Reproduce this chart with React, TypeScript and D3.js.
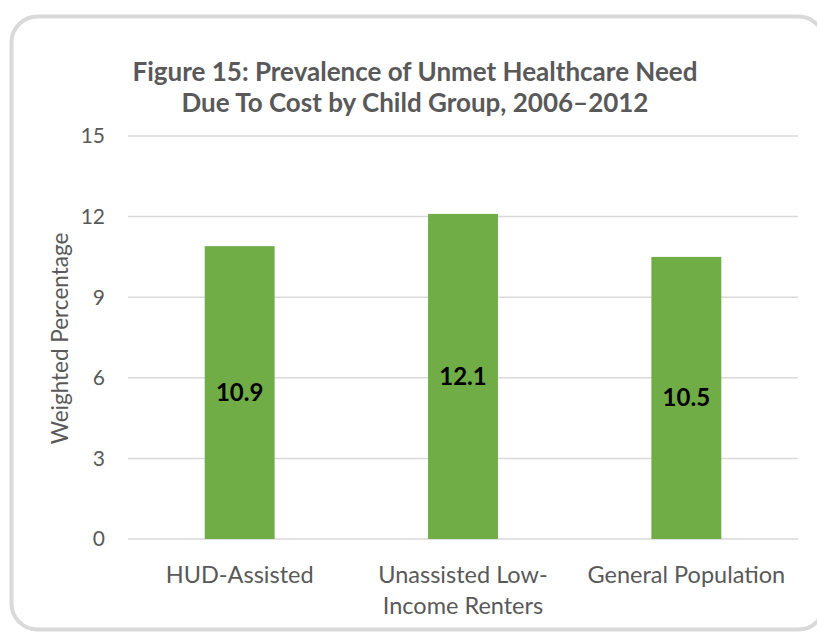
import React from "react";
import * as d3 from "d3";

const categories: string[][] = [["HUD-Assisted"], ["Unassisted Low-", "Income Renters"], ["General Population"]];
const values: number[] = [10.9, 12.1, 10.5];
const yTicks: number[] = [0, 3, 6, 9, 12, 15];
const titleLines: string[] = ["Figure 15: Prevalence of Unmet Healthcare Need", "Due To Cost by Child Group, 2006\u20132012"];
const yAxisTitle = "Weighted Percentage";

const W = 817, H = 633;
const left = 128, right = 798, top = 136, bottom = 539;
const FONT = "Lato, 'Open Sans', sans-serif";

export default function App() {
  const x = d3.scaleBand<number>().domain(d3.range(values.length)).range([left, right]).paddingInner(0.687).paddingOuter(0.3435);
  const y = d3.scaleLinear().domain([0, 15]).range([bottom, top]);
  return (
    <svg width={W} height={H} style={{ position: "absolute", left: 0, top: 0 }}>
      <rect x={0} y={0} width={W} height={H} fill="#fff" />
      <rect x={11.5} y={16.5} width={813} height={613} rx={26} ry={26} fill="#fff" stroke="#d9d9d9" strokeWidth={4} />
      {titleLines.map((t, i) => (
        <text key={i} x={415} y={81 + i * 31} textAnchor="middle" fontFamily={FONT} fontWeight="bold" fontSize={26} fill="#595959">{t}</text>
      ))}
      {yTicks.map((t) => (
        <g key={t}>
          <line x1={left} x2={right} y1={y(t)} y2={y(t)} stroke="#d9d9d9" strokeWidth={1.5} />
          <text x={105} y={y(t)} dy="0.35em" textAnchor="end" fontFamily={FONT} fontSize={21} fill="#595959">{t}</text>
        </g>
      ))}
      {values.map((v, i) => (
        <g key={i}>
          <rect x={x(i)} y={y(v)} width={x.bandwidth()} height={y(0) - y(v)} fill="#70ad47" />
          <text x={(x(i) as number) + x.bandwidth() / 2} y={y(v / 2)} dy="0.35em" textAnchor="middle" fontFamily={FONT} fontWeight="bold" fontSize={24} fill="#000">{v.toFixed(1)}</text>
        </g>
      ))}
      {categories.map((lines, i) => (
        <text key={i} x={(x(i) as number) + x.bandwidth() / 2} y={583} textAnchor="middle" fontFamily={FONT} fontSize={23.5} fill="#595959">
          {lines.map((l, j) => (
            <tspan key={j} x={(x(i) as number) + x.bandwidth() / 2} dy={j === 0 ? 0 : 31}>{l}</tspan>
          ))}
        </text>
      ))}
      <text transform={`translate(68,${(top + bottom) / 2 + 1}) rotate(-90)`} textAnchor="middle" fontFamily={FONT} fontSize={22.5} fill="#595959">{yAxisTitle}</text>
    </svg>
  );
}
